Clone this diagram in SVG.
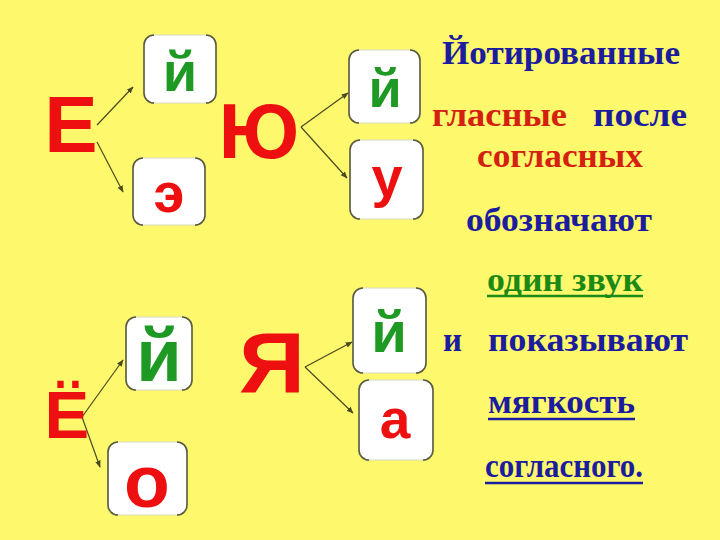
<svg xmlns="http://www.w3.org/2000/svg" width="720" height="540" viewBox="0 0 720 540">
<defs>
<style>
.box{fill:#ffffff;stroke:#d8d8c0;stroke-width:1}
.br{fill:none;stroke:#5a5a40;stroke-width:1.6}
.big{font-family:"Liberation Sans",Arial,sans-serif;font-weight:bold;fill:#ee1010;text-anchor:middle}
.g{font-family:"Liberation Sans",Arial,sans-serif;font-weight:bold;fill:#1e9a24;text-anchor:middle}
.r{font-family:"Liberation Sans",Arial,sans-serif;font-weight:bold;fill:#ee1010;text-anchor:middle}
.t{font-family:"Liberation Serif","Times New Roman",serif;font-weight:bold;font-size:34px}
.bl{fill:#1c1c9e}
.rd{fill:#d42010}
.gr{fill:#1a8a14}
.conn line{stroke:#4a4a20;stroke-width:1.2;marker-end:url(#ah)}
</style>
<marker id="ah" viewBox="0 0 10 10" refX="9" refY="5" markerWidth="7" markerHeight="7" orient="auto" markerUnits="userSpaceOnUse">
<path d="M0,1 L10,5 L0,9 z" fill="#4a4a20"/>
</marker>
</defs>
<rect width="720" height="540" fill="#fef86c"/>

<g id="conn" class="conn">
<line x1="97" y1="125" x2="133" y2="87"/>
<line x1="97" y1="142" x2="123" y2="192"/>
<line x1="301" y1="127" x2="348" y2="93"/>
<line x1="301" y1="127" x2="347" y2="178"/>
<line x1="82" y1="417" x2="123" y2="360"/>
<line x1="82" y1="417" x2="100" y2="467"/>
<line x1="305" y1="367" x2="352" y2="342"/>
<line x1="305" y1="367" x2="353" y2="413"/>
</g>

<g id="E"><text class="big" x="71" y="152" font-size="80">Е</text></g>
<g id="YU"><text class="big" x="259" y="158" font-size="78">Ю</text></g>
<g id="YO"><text class="big" x="67" y="438" font-size="67">Ё</text></g>
<g id="YA"><text class="big" x="272" y="392" font-size="86" textLength="66" lengthAdjust="spacingAndGlyphs">Я</text></g>

<g id="b1">
<rect class="box" x="144" y="35" width="72" height="68" rx="10"/>
<path class="br" d="M144,55 V45 A10,10 0 0 1 154,35 M206,35 A10,10 0 0 1 216,45 V93 A10,10 0 0 1 206,103 M154,103 A10,10 0 0 1 144,93 V45"/>
<text class="g" x="180" y="91" font-size="56">й</text>
</g>
<g id="b2">
<rect class="box" x="133" y="158" width="72" height="67" rx="10"/>
<path class="br" d="M133,168 A10,10 0 0 1 143,158 M195,158 A10,10 0 0 1 205,168 V215 A10,10 0 0 1 195,225 M143,225 A10,10 0 0 1 133,215 V168"/>
<text class="r" x="169" y="212" font-size="56">э</text>
</g>
<g id="b3">
<rect class="box" x="349" y="50" width="71" height="73" rx="10"/>
<path class="br" d="M349,60 A10,10 0 0 1 359,50 M410,50 A10,10 0 0 1 420,60 V113 A10,10 0 0 1 410,123 M359,123 A10,10 0 0 1 349,113 V60"/>
<text class="g" x="385" y="107" font-size="54">й</text>
</g>
<g id="b4">
<rect class="box" x="350" y="140" width="73" height="79" rx="10"/>
<path class="br" d="M350,150 A10,10 0 0 1 360,140 M413,140 A10,10 0 0 1 423,150 V209 A10,10 0 0 1 413,219 M360,219 A10,10 0 0 1 350,209 V150"/>
<text class="r" x="387" y="196" font-size="56">у</text>
</g>
<g id="b5">
<rect class="box" x="126" y="317" width="66" height="73" rx="10"/>
<path class="br" d="M126,327 A10,10 0 0 1 136,317 M182,317 A10,10 0 0 1 192,327 V380 A10,10 0 0 1 182,390 M136,390 A10,10 0 0 1 126,380 V327"/>
<text class="g" x="159" y="381" font-size="74">й</text>
</g>
<g id="b6">
<rect class="box" x="108" y="442" width="79" height="73" rx="10"/>
<path class="br" d="M108,452 A10,10 0 0 1 118,442 M177,442 A10,10 0 0 1 187,452 V505 A10,10 0 0 1 177,515 M118,515 A10,10 0 0 1 108,505 V452"/>
<text class="r" x="147" y="507" font-size="75">о</text>
</g>
<g id="b7">
<rect class="box" x="353" y="288" width="73" height="85" rx="10"/>
<path class="br" d="M353,298 A10,10 0 0 1 363,288 M416,288 A10,10 0 0 1 426,298 V363 A10,10 0 0 1 416,373 M363,373 A10,10 0 0 1 353,363 V298"/>
<text class="g" x="389" y="352" font-size="58">й</text>
</g>
<g id="b8">
<rect class="box" x="359" y="380" width="74" height="80" rx="10"/>
<path class="br" d="M359,390 A10,10 0 0 1 369,380 M423,380 A10,10 0 0 1 433,390 V450 A10,10 0 0 1 423,460 M369,460 A10,10 0 0 1 359,450 V390"/>
<text class="r" x="395" y="438" font-size="55">а</text>
</g>

<g id="textblock">
<text class="t bl" x="442" y="64" textLength="238" lengthAdjust="spacingAndGlyphs">Йотированные</text>
<text class="t rd" x="432" y="126" textLength="135" lengthAdjust="spacingAndGlyphs">гласные</text>
<text class="t bl" x="593" y="126" textLength="94" lengthAdjust="spacingAndGlyphs">после</text>
<text class="t rd" x="477" y="167" textLength="166" lengthAdjust="spacingAndGlyphs">согласных</text>
<text class="t bl" x="466" y="231" textLength="186" lengthAdjust="spacingAndGlyphs">обозначают</text>
<text class="t gr" x="487" y="291" font-size="33" textLength="156" lengthAdjust="spacingAndGlyphs">один звук</text>
<line x1="487" y1="296" x2="643" y2="296" stroke="#1a8a14" stroke-width="2.5"/>
<text class="t bl" x="443" y="351" textLength="19" lengthAdjust="spacingAndGlyphs">и</text>
<text class="t bl" x="488" y="351" textLength="200" lengthAdjust="spacingAndGlyphs">показывают</text>
<text class="t bl" x="488" y="413" textLength="147" lengthAdjust="spacingAndGlyphs">мягкость</text>
<line x1="488" y1="419" x2="635" y2="419" stroke="#1c1c9e" stroke-width="2.5"/>
<text class="t bl" x="485" y="477" textLength="158" lengthAdjust="spacingAndGlyphs">согласного.</text>
<line x1="485" y1="483" x2="643" y2="483" stroke="#1c1c9e" stroke-width="2.5"/>
</g>
</svg>
